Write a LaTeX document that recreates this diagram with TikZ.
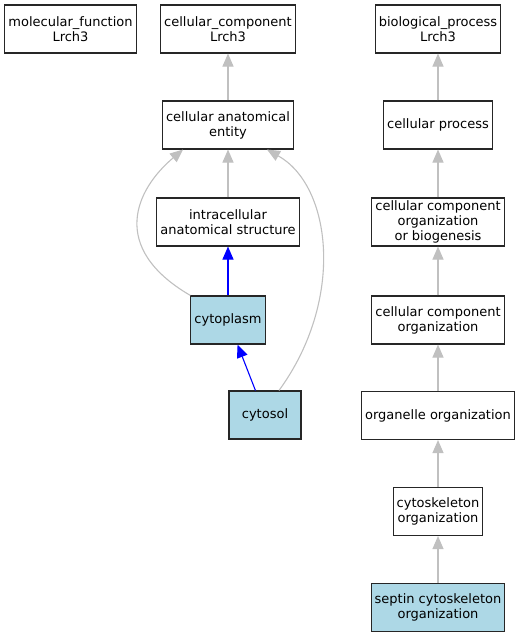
\documentclass[tikz,border=0pt]{standalone}
\usepackage{fontspec}
\setmainfont{DejaVu Sans}
\usepackage{xcolor}
\usepackage{tikz}
\usetikzlibrary{arrows.meta,positioning,calc}
\definecolor{golightblue}{RGB}{173,216,230}
\definecolor{goedgegray}{RGB}{192,192,192}
\tikzset{
    block/.style={rectangle, draw=black!85, line width=1.1pt, fill=white, align=center, font=\fontsize{13}{15}\selectfont, minimum width=72pt, minimum height=48pt, inner xsep=3.5pt, inner ysep=2pt},
    hit/.style={block, fill=golightblue},
    line/.style={draw, goedgegray, line width=1.1pt, -{Triangle[length=13pt,width=11pt]}},
    bline/.style={line, blue, line width=1.1pt}
}

\begin{document}
\begin{tikzpicture}[x=1pt,y=1pt]
    \useasboundingbox (0,0) rectangle (520,-637);

    % Ontology roots
    \node [block] (mf) at (70.5,-29) {molecular\_function\\Lrch3};
    \node [block] (cc) at (228,-29) {cellular\_component\\Lrch3};
    \node [block] (bp) at (438,-29) {biological\_process\\Lrch3};

    % Cellular component branch
    \node [block] (cae) at (228,-125) {cellular anatomical\\entity};
    \node [block] (ias) at (228,-222) {intracellular\\anatomical structure};
    \node [hit] (cytoplasm) at (228,-320) {cytoplasm};
    \node [hit] (cytosol) at (265,-415) {cytosol};

    % Biological process branch
    \node [block] (cp) at (438,-125) {cellular process};
    \node [block] (ccob) at (438,-222) {cellular component\\organization\\or biogenesis};
    \node [block] (cco) at (438,-320) {cellular component\\organization};
    \node [block] (oo) at (438,-415.5) {organelle organization};
    \node [block] (co) at (438,-511.5) {cytoskeleton\\organization};
    \node [hit] (sco) at (438,-607.5) {septin cytoskeleton\\organization};

    % is_a edges
    \path [line] (cae) -- (cc);
    \path [line] (ias) -- (cae);
    \path [line] (cytoplasm.north west) .. controls (109,-248) and (135,-190) .. ([xshift=-45pt]cae.south);
    \path [line] ([xshift=14pt]cytosol.north) .. controls (345,-300) and (332,-186) .. ([xshift=39pt]cae.south);
    \path [line] (cp) -- (bp);
    \path [line] (ccob) -- (cp);
    \path [line] (cco) -- (ccob);
    \path [line] (oo) -- (cco);
    \path [line] (co) -- (oo);
    \path [line] (sco) -- (co);

    % part_of edges
    \path [bline] (cytoplasm) -- (ias);
    \path [bline] (cytosol) -- (cytoplasm);
\end{tikzpicture}
\end{document}
